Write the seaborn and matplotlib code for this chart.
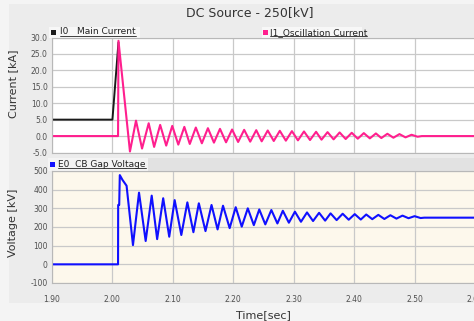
import numpy as np
import pandas as pd
import matplotlib
matplotlib.use("Agg")
import matplotlib.pyplot as plt
import seaborn as sns
from matplotlib.patches import Rectangle
from matplotlib.lines import Line2D

# ---------------- data ----------------
title = "DC Source - 250[kV]"
xticks = [1.90, 2.00, 2.10, 2.20, 2.30, 2.40, 2.50, 2.60]
xticklabels = ["1.90", "2.00", "2.10", "2.20", "2.30", "2.40", "2.50", "2.60"]
cur_ticks = [30.0, 25.0, 20.0, 15.0, 10.0, 5.0, 0.0, -5.0]
volt_ticks = [500, 400, 300, 200, 100, 0, -100]

# I0 Main current
i0_t = [1.90, 2.000, 2.0100]
i0_v = [5.0, 5.0, 28.5]

# I1 Oscillation current
i1_t = [1.90, 2.0093, 2.0100,
        2.029, 2.039, 2.049, 2.060, 2.069, 2.079, 2.089, 2.099, 2.109, 2.119,
        2.128, 2.138, 2.148, 2.158, 2.168, 2.178, 2.188, 2.198, 2.208, 2.218,
        2.228, 2.238, 2.247, 2.257, 2.267, 2.277, 2.287, 2.297, 2.307, 2.317,
        2.327, 2.337, 2.346, 2.356, 2.366, 2.376, 2.386, 2.396, 2.406, 2.416,
        2.426, 2.436, 2.445, 2.455, 2.465, 2.475, 2.485, 2.495, 2.505, 2.512,
        2.60]
i1_v = [0.0, 0.0, 29.0,
        -4.7, 4.7, -3.8, 3.9, -3.3, 3.4, -2.9, 3.1, -2.6, 2.8,
        -2.4, 2.6, -2.2, 2.4, -2.0, 2.2, -1.9, 2.0, -1.8, 1.9,
        -1.7, 1.8, -1.6, 1.7, -1.5, 1.6, -1.4, 1.5, -1.3, 1.4,
        -1.2, 1.3, -1.1, 1.2, -1.0, 1.1, -0.9, 1.0, -0.8, 0.9,
        -0.7, 0.8, -0.6, 0.7, -0.5, 0.6, -0.4, 0.4, -0.2, 0.0,
        0.0]

# E0 CB gap voltage
e0_t = [1.90, 2.0093, 2.0095, 2.0112, 2.0122, 2.0167, 2.0234,
        2.034, 2.044, 2.055, 2.065, 2.074, 2.084, 2.094, 2.103, 2.114, 2.124,
        2.134, 2.143, 2.154, 2.164, 2.174, 2.183, 2.194, 2.204, 2.214, 2.224,
        2.234, 2.243, 2.253, 2.263, 2.273, 2.282, 2.292, 2.302, 2.312, 2.322,
        2.332, 2.342, 2.352, 2.361, 2.371, 2.381, 2.391, 2.401, 2.411, 2.420,
        2.430, 2.440, 2.450, 2.460, 2.470, 2.480, 2.490, 2.500, 2.510, 2.516,
        2.60]
e0_v = [0, 0, 318, 318, 478, 452, 421,
        103, 384, 125, 368, 135, 354, 148, 344, 157, 332,
        172, 327, 178, 318, 187, 314, 194, 306, 202, 300,
        210, 294, 214, 291, 219, 287, 223, 282, 228, 278,
        232, 276, 234, 273, 237, 271, 239, 269, 240, 267,
        242, 265, 243, 263, 245, 261, 247, 258, 248, 250,
        250]

df_i0 = pd.DataFrame({"t": i0_t, "v": i0_v})
df_i1 = pd.DataFrame({"t": i1_t, "v": i1_v})
df_e0 = pd.DataFrame({"t": e0_t, "v": e0_v})

# ---------------- styling ----------------
sns.set_theme(style="white")
plt.rcParams["font.family"] = ["DejaVu Sans"]

W, H = 474, 321
fig = plt.figure(figsize=(W / 100, H / 100), dpi=100)
fig.patch.set_facecolor("#f4f4f4")
# gray panel
fig.add_artist(Rectangle((9 / W, 1 - 303 / H), 1, (303 - 4) / H,
                         transform=fig.transFigure, facecolor="#ececec",
                         edgecolor="none", zorder=-10))

def px_axes(x0, x1, y0, y1):
    return fig.add_axes([x0 / W, 1 - y1 / H, (x1 - x0) / W, (y1 - y0) / H])

ax1 = px_axes(52, 475, 37.5, 152.5)
ax2 = px_axes(52, 475, 171, 283)

grid_c = "#c9c9c9"
tick_c = "#505050"
for ax, fc in ((ax1, "white"), (ax2, "#fdf8ec")):
    ax.set_facecolor(fc)
    ax.set_xlim(1.90, 2.60)
    ax.set_xticks(xticks)
    ax.grid(True, color=grid_c, linewidth=0.9)
    for s in ax.spines.values():
        s.set_color("#b8b8b8")
        s.set_linewidth(0.8)
    ax.tick_params(length=0, labelsize=5.5, colors=tick_c, pad=3)

sns.lineplot(data=df_i0, x="t", y="v", ax=ax1, color="#1a1a1a", linewidth=1.4,
             estimator=None, sort=False)
sns.lineplot(data=df_i1, x="t", y="v", ax=ax1, color="#ff1f8e", linewidth=1.5,
             estimator=None, sort=False)
sns.lineplot(data=df_e0, x="t", y="v", ax=ax2, color="#1010ff", linewidth=1.5,
             estimator=None, sort=False)

ax1.set_ylim(-5, 30)
ax1.set_yticks(cur_ticks)
ax1.set_yticklabels([f"{v:.1f}" for v in cur_ticks])
ax1.set_xticklabels([])
ax2.set_ylim(-100, 500)
ax2.set_yticks(volt_ticks)
ax2.set_yticklabels([str(v) for v in volt_ticks])
ax2.set_xticklabels(xticklabels)
ax2.tick_params(axis="x", pad=9)

ax1.set_xlabel("")
ax1.set_ylabel("Current [kA]", fontsize=8, color="#333333")
ax1.yaxis.set_label_coords(-0.08, 0.6)
ax2.set_ylabel("Voltage [kV]", fontsize=8, color="#333333")
ax2.yaxis.set_label_coords(-0.08, 0.54)
ax2.set_xlabel("Time[sec]", fontsize=8, color="#333333", labelpad=4)

fig.text(250 / W, 1 - 12.5 / H, title, ha="center", va="center",
         fontsize=9, color="#333333")

# legend strips
def box(x0, x1, y0, y1, fc, ec="none"):
    fig.add_artist(Rectangle((x0 / W, 1 - y1 / H), (x1 - x0) / W, (y1 - y0) / H,
                             transform=fig.transFigure, facecolor=fc,
                             edgecolor=ec, linewidth=0.6, zorder=-5))

box(49, 140, 27, 37.5, "#f7f7f7")
box(262, 362, 27, 37.5, "#f7f7f7")
box(48, 475, 157.5, 171, "#e2e2e2")
box(48, 148, 157.5, 171, "#f4f4f4")

legend_items = [
    (51, 32, "#1a1a1a", 60, "I0   Main Current"),
    (263, 32.5, "#ff1f8e", 270, "I1_Oscillation Current"),
    (50, 164.5, "#1010ff", 58.5, "E0  CB Gap Voltage"),
]
fig.canvas.draw()
renderer = fig.canvas.get_renderer()
for mx, my, col, tx, label in legend_items:
    fig.add_artist(Rectangle((mx / W, 1 - (my + 2.5) / H), 5 / W, 5 / H,
                             transform=fig.transFigure, facecolor=col,
                             edgecolor="none"))
    t = fig.text(tx / W, 1 - my / H, label, ha="left", va="center",
                 fontsize=6.5, color="#222222")
    bb = t.get_window_extent(renderer).transformed(fig.transFigure.inverted())
    fig.add_artist(Line2D([bb.x0, bb.x1], [bb.y0 + 0.002, bb.y0 + 0.002],
                          transform=fig.transFigure, color="#222222",
                          linewidth=0.6))

fig.savefig("out.png", dpi=100, facecolor=fig.get_facecolor())
